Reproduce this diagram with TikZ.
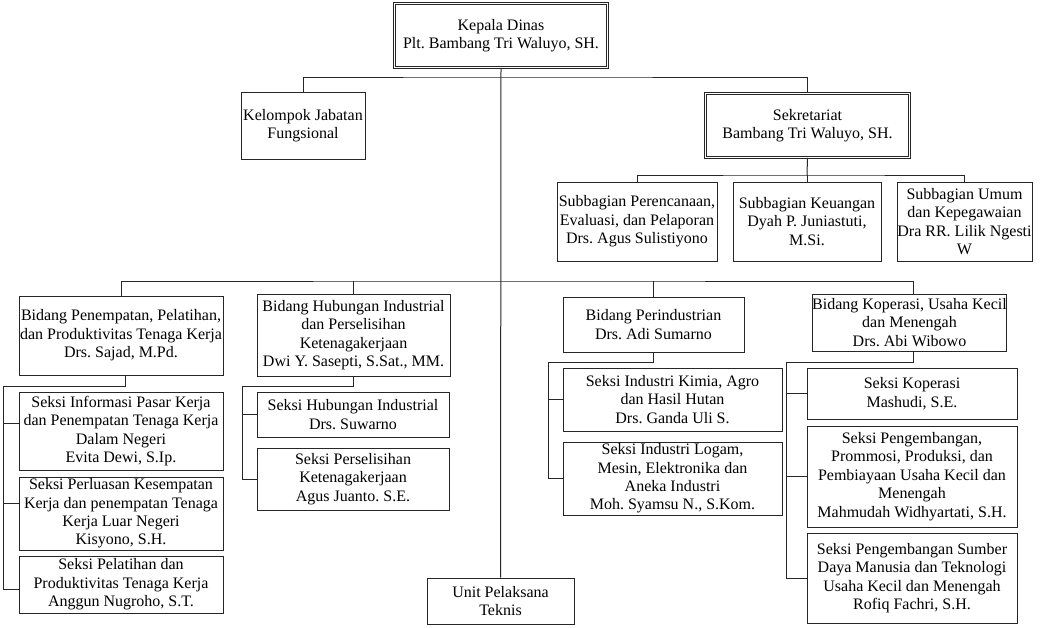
\documentclass[tikz,border=0pt]{standalone}
\usepackage{fontspec}
\setmainfont{Liberation Serif}
\frenchspacing
\tikzset{
  box/.style={draw=black!85, line width=0.75pt, fill=white, inner sep=0pt, align=center,
    font=\fontsize{12pt}{13.8pt}\selectfont},
  dbox/.style={box, double, line width=0.6pt, double distance=1.2pt},
  conn/.style={draw=black!85, line width=0.75pt}
}
\newcommand\mkbox[7][box]{%
  \node[#1, minimum width={(#5-#3)*0.75pt}, minimum height={(#6-#4)*0.75pt}]
    (#2) at ({(#3+#5)/2},{(#4+#6)/2}) {#7};}
\begin{document}
\frenchspacing
\begin{tikzpicture}[x=0.75pt,y=-0.75pt]
\fill[white] (0,0) rectangle (1040,628);
\useasboundingbox (0,0) rectangle (1040,628);

\mkbox[dbox]{kepala}{394.5}{3.5}{607.5}{67.5}{Kepala Dinas\\Plt. Bambang Tri Waluyo, SH.}
\mkbox{kelompok}{241}{92}{365}{159}{Kelompok Jabatan\\Fungsional}
\mkbox[dbox]{sek}{705.5}{93.5}{909.5}{157.5}{Sekretariat\\Bambang Tri Waluyo, SH.}
\mkbox{sub1}{557}{182}{717}{261}{Subbagian Perencanaan,\\Evaluasi, dan Pelaporan\\Drs. Agus Sulistiyono}
\mkbox{sub2}{733}{182}{881}{261}{Subbagian Keuangan\\Dyah P. Juniastuti,\\M.Si.}
\mkbox{sub3}{897}{182}{1032}{261}{Subbagian Umum\\dan Kepegawaian\\Dra RR. Lilik Ngesti\\W}

\mkbox{b1}{19}{296}{223}{375}{Bidang Penempatan, Pelatihan,\\dan Produktivitas Tenaga Kerja\\Drs. Sajad, M.Pd.}
\mkbox{b2}{257}{294}{450}{376}{Bidang Hubungan Industrial\\dan Perselisihan\\Ketenagakerjaan\\Dwi Y. Sasepti, S.Sat., MM.}
\mkbox{b3}{563}{297}{744}{352}{Bidang Perindustrian\\Drs. Adi Sumarno}
\mkbox{b4}{813}{294}{1006}{351}{Bidang Koperasi, Usaha Kecil\\dan Menengah\\Drs. Abi Wibowo}

\mkbox{k11}{19}{392}{223}{470}{Seksi Informasi Pasar Kerja\\dan Penempatan Tenaga Kerja\\Dalam Negeri\\Evita Dewi, S.Ip.}
\mkbox{k12}{19}{477}{223}{550}{Seksi Perluasan Kesempatan\\Kerja dan penempatan Tenaga\\Kerja Luar Negeri\\Kisyono, S.H.}
\mkbox{k13}{19}{556}{223}{613}{Seksi Pelatihan dan\\Produktivitas Tenaga Kerja\\Anggun Nugroho, S.T.}

\mkbox{k21}{257}{392}{449}{437}{Seksi Hubungan Industrial\\Drs. Suwarno}
\mkbox{k22}{257}{448}{449}{510}{Seksi Perselisihan\\Ketenagakerjaan\\Agus Juanto. S.E.}

\mkbox{k31}{563}{368}{782}{431}{Seksi Industri Kimia, Agro\\dan Hasil Hutan\\Drs. Ganda Uli S.}
\mkbox{k32}{563}{442}{782}{515}{Seksi Industri Logam,\\Mesin, Elektronika dan\\Aneka Industri\\Moh. Syamsu N., S.Kom.}

\mkbox{k41}{807}{368}{1017}{419}{Seksi Koperasi\\Mashudi, S.E.}
\mkbox{k42}{807}{426}{1017}{527}{Seksi Pengembangan,\\Prommosi, Produksi, dan\\Pembiayaan Usaha Kecil dan\\Menengah\\Mahmudah Widhyartati, S.H.}
\mkbox{k43}{807}{533}{1017}{623}{Seksi Pengembangan Sumber\\Daya Manusia dan Teknologi\\Usaha Kecil dan Menengah\\Rofiq Fachri, S.H.}

\mkbox{unit}{427}{578}{574}{624}{Unit Pelaksana\\Teknis}

% junction coordinates
\coordinate (j1) at (501,77);
\coordinate (j2) at (807,175);
\coordinate (j3) at (501,281);
\coordinate (s1) at (3,386);
\coordinate (s2) at (242,386);
\coordinate (s3) at (548,362);
\coordinate (s4) at (786,362);

% trunk
\draw[conn] (kepala.south) -- (unit.north);
\draw[conn] (kelompok.north) |- (j1) -| (sek.north);
% sekretariat
\draw[conn] (sek.south) -- (j2);
\draw[conn] (sub1.north) |- (j2) -| (sub3.north);
\draw[conn] (j2) -- (sub2.north);
% bidang row
\draw[conn] (b1.north) |- (j3) -| ([xshift=3pt]b4.north);
\draw[conn] (b2.north) -- (b2.north |- j3);
\draw[conn] (b3.north) -- (b3.north |- j3);
% bidang 1
\draw[conn] ([xshift=3pt]b1.south) |- (s1);
\draw[conn] (s1) |- ([yshift=6pt]k11.west);
\draw[conn] (s1) |- ([yshift=7.5pt]k12.west);
\draw[conn] (s1) |- ([yshift=-3.4pt]k13.west);
% bidang 2
\draw[conn] (b2.south) |- (s2);
\draw[conn] (s2) |- (k21.west);
\draw[conn] (s2) |- (k22.west);
% bidang 3
\draw[conn] (b3.south) |- (s3);
\draw[conn] (s3) |- (k31.west);
\draw[conn] (s3) |- (k32.west);
% bidang 4
\draw[conn] ([xshift=3pt]b4.south) |- (s4);
\draw[conn] (s4) |- (k41.west);
\draw[conn] (s4) |- (k42.west);
\draw[conn] (s4) |- (k43.west);
\end{tikzpicture}
\end{document}
